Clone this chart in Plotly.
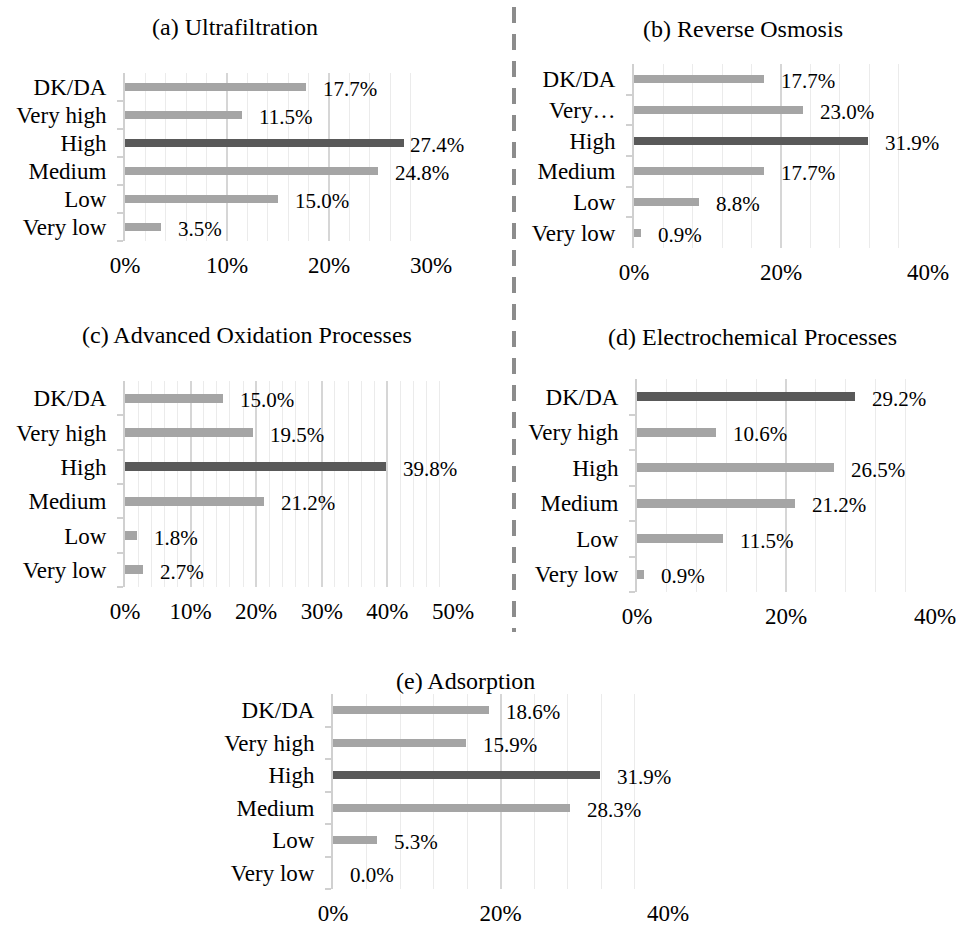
import plotly.graph_objects as go

# Survey answer categories, top to bottom
categories = ["DK/DA", "Very high", "High", "Medium", "Low", "Very low"]
labels_ro = ["DK/DA", "Very…", "High", "Medium", "Low", "Very low"]

titles = [
    "(a) Ultrafiltration",
    "(b) Reverse Osmosis",
    "(c) Advanced Oxidation Processes",
    "(d) Electrochemical Processes",
    "(e) Adsorption",
]

# Share of responses (%) per category
ultrafiltration = [17.7, 11.5, 27.4, 24.8, 15.0, 3.5]
reverse_osmosis = [17.7, 23.0, 31.9, 17.7, 8.8, 0.9]
advanced_oxidation = [15.0, 19.5, 39.8, 21.2, 1.8, 2.7]
electrochemical = [29.2, 10.6, 26.5, 21.2, 11.5, 0.9]
adsorption = [18.6, 15.9, 31.9, 28.3, 5.3, 0.0]

series = [ultrafiltration, reverse_osmosis, advanced_oxidation, electrochemical, adsorption]
tick_labels = [categories, labels_ro, categories, categories, categories]

# Axis extents and tick spacing (%)
x_max = [30, 40, 50, 40, 40]
x_major = [10, 20, 10, 20, 20]
x_minor = [2, 4, 2, 4, 4]

W, H = 959, 930
FONT = "'Times New Roman', 'Liberation Serif', 'DejaVu Serif', serif"
LIGHT, DARK = "#A5A5A5", "#595959"

# Plot boxes in pixels: left, right, top, bottom; title centre x, y
boxes = [
    (125, 431, 73, 241, 235, 27),
    (634, 928, 64, 248, 743, 29),
    (125, 453, 381, 587, 247, 335),
    (637, 935, 379, 592, 752, 337),
    (333, 668, 694, 889, 465, 681),
]


def px_x(v):
    return v / W


def px_y(v):
    return 1 - v / H


fig = go.Figure()
annotations = []
layout = {}

for i, (vals, ticks, box) in enumerate(zip(series, tick_labels, boxes)):
    n = "" if i == 0 else str(i + 1)
    left, right, top, bottom, tx, ty = box
    vmax = max(vals)
    colors = [DARK if v == vmax else LIGHT for v in vals]

    fig.add_trace(go.Bar(
        x=vals, y=categories, orientation="h",
        marker=dict(color=colors, line=dict(width=0)),
        width=0.26, xaxis="x" + n, yaxis="y" + n,
        showlegend=False, hoverinfo="x+y",
    ))

    for v, c in zip(vals, categories):
        shift = 4 if v / x_max[i] > 0.85 else 15
        annotations.append(dict(
            x=v, y=c, xref="x" + n, yref="y" + n,
            text=f"{v:.1f}%", showarrow=False, xanchor="left",
            xshift=shift, yshift=-2,
            font=dict(family=FONT, size=21, color="#000000"),
        ))

    annotations.append(dict(
        x=px_x(tx), y=px_y(ty), xref="paper", yref="paper",
        text=titles[i], showarrow=False, xanchor="center", yanchor="middle",
        font=dict(family=FONT, size=24, color="#000000"),
    ))

    layout["xaxis" + n] = dict(
        domain=[px_x(left), px_x(right)], anchor="y" + n, automargin=False,
        range=[0, x_max[i]], tickmode="linear", tick0=0, dtick=x_major[i],
        ticksuffix="%", showgrid=True, gridcolor="#D6D6D6", gridwidth=1.5,
        minor=dict(dtick=x_minor[i], showgrid=True, gridcolor="#EBEBEB", gridwidth=1),
        zeroline=False, showline=False, ticks="",
        tickfont=dict(family=FONT, size=23, color="#000000"),
        ticklabelstandoff=8, fixedrange=True,
    )
    layout["yaxis" + n] = dict(
        domain=[px_y(bottom), px_y(top)], anchor="x" + n, automargin=False,
        type="category", categoryorder="array", categoryarray=categories[::-1],
        tickmode="array", tickvals=categories, ticktext=ticks,
        range=[-0.5, 5.5], tickson="boundaries",
        ticks="outside", ticklen=6, tickcolor="#D0D0D0", tickwidth=1.5,
        showline=True, linecolor="#D0D0D0", linewidth=2,
        showgrid=False, zeroline=False,
        tickfont=dict(family=FONT, size=23, color="#000000"),
        ticklabelstandoff=12, fixedrange=True,
    )

# Dashed divider between the left and right columns
shapes = [dict(
    type="line", xref="paper", yref="paper",
    x0=px_x(514), x1=px_x(514), y0=px_y(7), y1=px_y(632),
    line=dict(color="#8C8C8C", width=4, dash="16px,11px"),
)]

fig.update_layout(
    template="none",
    width=W, height=H, margin=dict(l=0, r=0, t=0, b=0, pad=0),
    paper_bgcolor="white", plot_bgcolor="white",
    annotations=annotations, shapes=shapes, bargap=0,
    font=dict(family=FONT, color="#000000"),
    **layout,
)

fig.write_html("out.html")
